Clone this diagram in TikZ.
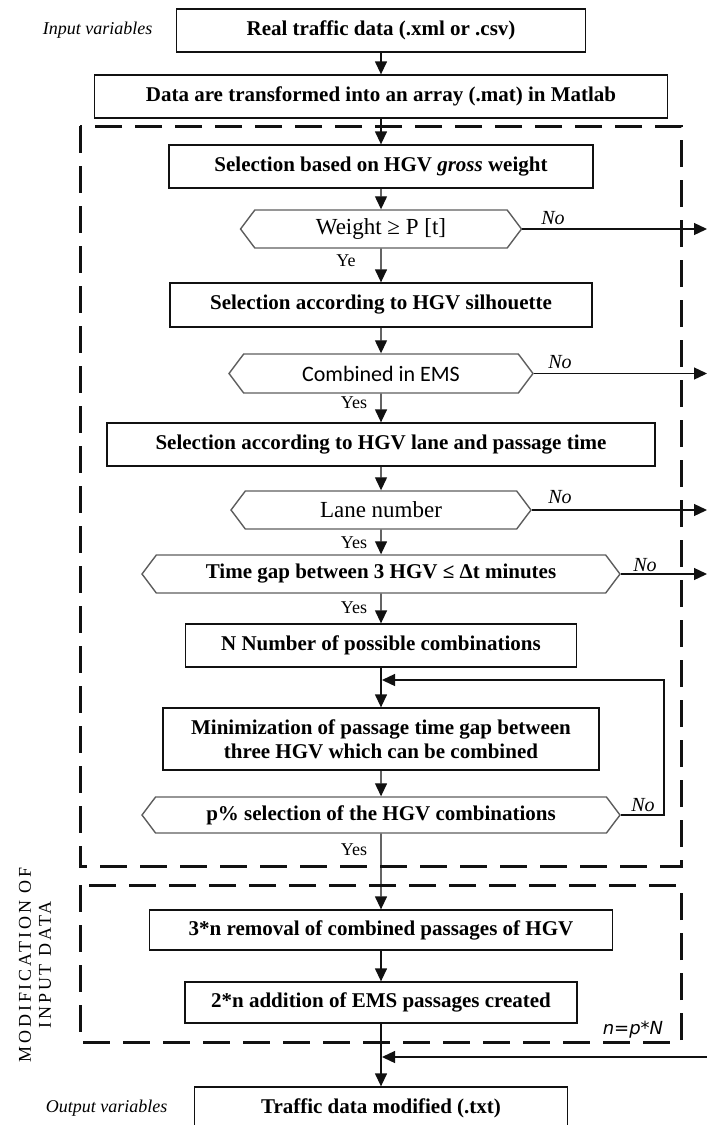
\documentclass[tikz,border=0pt]{standalone}
\usepackage{fontspec}
\setmainfont{Liberation Serif}
\newfontfamily\carlito{Carlito}
\newfontfamily\dejavu{DejaVu Sans}
\newfontfamily\spacedserif[LetterSpace=16]{Liberation Serif}
\usetikzlibrary{arrows.meta,positioning,shapes.symbols}
\definecolor{Ink}{HTML}{111111}
\definecolor{HexLine}{HTML}{5E5E5E}
\tikzset{
  box/.style={draw=Ink,fill=white,line width=1.3pt,minimum height=43pt,align=center,inner sep=0pt,font=\bfseries\fontsize{21}{24}\selectfont},
  hexa/.style={draw=HexLine,fill=white,line width=1.4pt,signal,signal to=west and east,signal pointer angle=106,minimum height=38pt,inner sep=0pt,align=center},
  flow/.style={-{Triangle[length=13pt,width=12pt]},draw=Ink,line width=1.3pt},
  group/.style={draw=Ink,line width=3pt,dash pattern=on 27pt off 13pt},
  nolabel/.style={font=\itshape\fontsize{20}{20}\selectfont},
  yeslabel/.style={font=\fontsize{18}{18}\selectfont},
  varlabel/.style={font=\itshape\fontsize{18}{18}\selectfont}
}

\begin{document}
\begin{tikzpicture}[x=1pt,y=-1pt]
      \clip (0,0) rectangle (707,1125);
      \draw[group] (80,126) rectangle (681,866);
      \draw[group] (80,885) rectangle (681,1042);
      \coordinate (edgeR) at (707,0);
      \node[box,minimum width=409pt] (real) at (381,30.5) {Real traffic data (.xml or .csv)};
      \node[box,minimum width=573pt] (matlab) at (381,96.5) {Data are transformed into an array (.mat) in Matlab};
      \node[box,minimum width=424pt] (gross) at (381,166.5) {Selection based on HGV \textit{gross} weight};
      \node[hexa,minimum width=281pt,font=\fontsize{23}{23}\selectfont] (weight) at (381,229) {Weight ≥ P [t]};
      \node[box,minimum width=422pt,minimum height=44pt] (silh) at (381,305) {Selection according to HGV silhouette};
      \node[hexa,minimum width=304pt,minimum height=39pt,font=\carlito\fontsize{22}{22}\selectfont] (ems) at (381,373.5) {Combined in EMS};
      \node[box,minimum width=548pt] (lanebox) at (381,444.5) {Selection according to HGV lane and passage time};
      \node[hexa,minimum width=300pt,font=\fontsize{23}{23}\selectfont] (lanenum) at (381,510) {Lane number};
      \node[hexa,minimum width=478pt,font=\bfseries\fontsize{21}{21}\selectfont] (timegap) at (381,574) {Time gap between 3 HGV ≤ Δt minutes};
      \node[box,minimum width=391pt] (ncomb) at (381,645.5) {N Number of possible combinations};
      \node[box,minimum width=436pt,minimum height=62pt] (minim) at (381,739) {Minimization of passage time gap between\\three HGV which can be combined};
      \node[hexa,minimum width=478pt,minimum height=36pt,font=\bfseries\fontsize{21}{21}\selectfont] (psel) at (381,815) {p\% selection of the HGV combinations};
      \node[box,minimum width=463pt,minimum height=40pt] (removal) at (381,930) {3*n removal of combined passages of HGV};
      \node[box,minimum width=392pt,minimum height=41pt] (addition) at (381,1002.5) {2*n addition of EMS passages created};
      \node[box,minimum width=373pt] (modified) at (381,1108.5) {Traffic data modified (.txt)};
      \node[varlabel,left=20pt of real] (inlabel) {Input variables};
      \node[varlabel,left=23pt of modified] (outlabel) {Output variables};
      \node[rotate=90,align=center,font=\spacedserif\fontsize{18}{20}\selectfont] (modlabel) at (35,965) {MODIFICATION OF\\INPUT DATA};
      \node[font=\dejavu\itshape\fontsize{18}{18}\selectfont] (nform) at (633,1030) {n=p*N};
      \node[nolabel] (no1) at (553,218) {No};
      \node[nolabel] (no2) at (560,362) {No};
      \node[nolabel] (no3) at (560,497) {No};
      \node[nolabel] (no4) at (645,565) {No};
      \node[nolabel] (no5) at (643,805) {No};
      \node[yeslabel] (yes1) at (346,261) {Ye};
      \node[yeslabel] (yes2) at (354,403) {Yes};
      \node[yeslabel] (yes3) at (354,543) {Yes};
      \node[yeslabel] (yes4) at (354,608) {Yes};
      \node[yeslabel] (yes5) at (354,850) {Yes};
      \coordinate (loopc) at (382,680);
      \coordinate (backc) at (382,1057);
      \coordinate (backin) at (707,1057);
      \draw[flow] (real) -- (matlab);
      \draw[flow] (matlab) -- (gross);
      \draw[flow] (gross) -- (weight);
      \draw[flow] (weight) -- (silh);
      \draw[flow] (silh) -- (ems);
      \draw[flow] (ems) -- (lanebox);
      \draw[flow] (lanebox) -- (lanenum);
      \draw[flow] (lanenum) -- (timegap);
      \draw[flow] (timegap) -- (ncomb);
      \draw[flow] (ncomb) -- (minim);
      \draw[flow] (minim) -- (psel);
      \draw[flow] (psel) -- (removal);
      \draw[flow] (removal) -- (addition);
      \draw[flow] (addition) -- (modified);
      \draw[flow] (weight.east) -- (weight.east -| edgeR);
      \draw[flow] (ems.east) -- (ems.east -| edgeR);
      \draw[flow] (lanenum.east) -- (lanenum.east -| edgeR);
      \draw[flow] (timegap.east) -- (timegap.east -| edgeR);
      \draw[flow] (psel.east) -- ++(43,0) |- (loopc);
      \draw[flow] (backin) -- (backc);
    \end{tikzpicture}
\end{document}
